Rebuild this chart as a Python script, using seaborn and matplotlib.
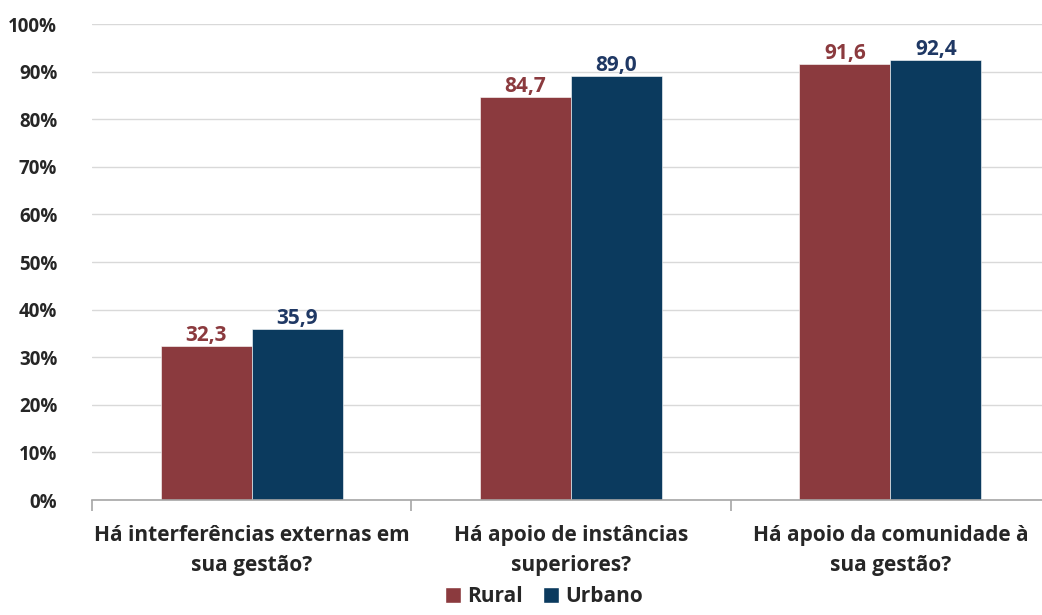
import matplotlib
matplotlib.use("Agg")
import matplotlib.pyplot as plt
import seaborn as sns
import pandas as pd
from matplotlib.ticker import FixedLocator, FuncFormatter
from matplotlib.patches import Patch

# Data
categories = ["Há interferências externas em\nsua gestão?",
              "Há apoio de instâncias\nsuperiores?",
              "Há apoio da comunidade à\nsua gestão?"]
rural = [32.3, 84.7, 91.6]
urbano = [35.9, 89.0, 92.4]
groups = ["Rural", "Urbano"]

bar_colors = {"Rural": "#8B3A3E", "Urbano": "#0B3A5E"}
label_colors = {"Rural": "#8B3A3E", "Urbano": "#1F3864"}

df = pd.DataFrame({
    "categoria": categories * 2,
    "grupo": ["Rural"] * 3 + ["Urbano"] * 3,
    "valor": rural + urbano,
})

sns.set_style("white")
plt.rcParams["font.family"] = ["Open Sans", "DejaVu Sans"]
plt.rcParams["font.weight"] = "bold"

fig = plt.figure(figsize=(10.42, 6.15), dpi=100)
ax = fig.add_axes([92 / 1042, 1 - 500 / 615, (1050 - 92) / 1042, 476 / 615])

sns.barplot(data=df, x="categoria", y="valor", hue="grupo", order=categories,
            hue_order=groups, palette=bar_colors, width=0.57, saturation=1,
            edgecolor="white", linewidth=0.4, legend=False, ax=ax)

for cont, g in zip(ax.containers, groups):
    ax.bar_label(cont, labels=[f"{v:.1f}".replace(".", ",") for v in cont.datavalues],
                 padding=0, color=label_colors[g], fontsize=15, fontweight="bold")

ax.set_ylim(0, 100)
ax.set_xlim(-0.5, 2.5)
ax.set_yticks(range(0, 101, 10))
ax.yaxis.set_major_formatter(FuncFormatter(lambda v, p: f"{int(v)}%"))
ax.grid(axis="y", color="#D9D9D9", linewidth=1)
ax.set_axisbelow(True)
ax.set_xlabel("")
ax.set_ylabel("")

for s in ["top", "right", "left"]:
    ax.spines[s].set_visible(False)
ax.spines["bottom"].set_color("#A6A6A6")
ax.spines["bottom"].set_linewidth(1.2)

ax.tick_params(axis="x", which="major", length=0, pad=18, labelsize=15, labelcolor="#262626")
ax.xaxis.set_minor_locator(FixedLocator([-0.5, 0.5, 1.5, 2.5]))
ax.tick_params(axis="x", which="minor", bottom=True, length=8, color="#A6A6A6",
               width=1.2, direction="out")
ax.tick_params(axis="y", length=0, pad=25, labelsize=13.5, labelcolor="#262626")
for lab in ax.get_xticklabels() + ax.get_yticklabels():
    lab.set_fontweight("bold")
for lab in ax.get_xticklabels():
    lab.set_linespacing(1.55)

handles = [Patch(facecolor=bar_colors[g], label=g) for g in groups]
fig.legend(handles=handles, loc="lower center", bbox_to_anchor=(0.522, -0.018), ncol=2,
           frameon=False, handlelength=0.75, handleheight=0.75,
           handletextpad=0.3, columnspacing=1.0, prop={"weight": "bold", "size": 15})

fig.savefig("out.png", dpi=100)
